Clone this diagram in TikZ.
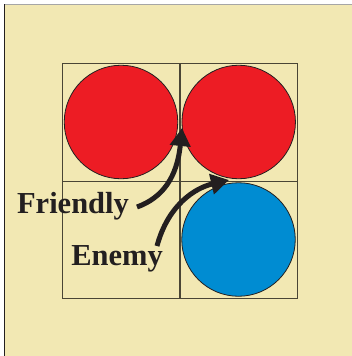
\documentclass[tikz,border=0pt]{standalone}
\usepackage{fontspec}
\setmainfont{Liberation Serif}
\usetikzlibrary{arrows.meta}
\definecolor{bg}{HTML}{F2E8B3}
\definecolor{redc}{HTML}{ED1C24}
\definecolor{bluec}{HTML}{008CD2}
\definecolor{gridc}{HTML}{4A4535}
\definecolor{ink}{HTML}{231F20}
\tikzset{
  disc/.style={circle, draw=ink, line width=0.8pt, minimum size=113.5pt, inner sep=0pt},
  gridline/.style={draw=gridc, line width=1.3pt},
  lbl/.style={font=\bfseries\fontsize{30.5}{32}\selectfont, text=ink, anchor=base, inner sep=0pt},
  pointer/.style={draw=ink, line width=5pt, -{Triangle[length=18pt,width=20pt]}}
}
\begin{document}
\begin{tikzpicture}[x=1pt,y=-1pt]
\useasboundingbox (0,0) rectangle (352,356);
\fill[white] (0,0) rectangle (352,356);
\fill[bg] (4.3,4.3) rectangle (352,356);
\draw[gray!70, line width=1pt] (4.3,4.3) -- (352,4.3);
\draw[ink, line width=1.2pt] (4.3,4.3) -- (4.3,356);
% grid
\draw[gridline] (62.3,63.3) rectangle (297.3,298.5);
\draw[gridline] (180,63.3) -- (180,298.5);
\draw[gridline] (62.3,181.3) -- (297.3,181.3);
% discs
\node[disc, fill=redc] (f1) at (121,122) {};
\node[disc, fill=redc] (f2) at (238.7,122) {};
\node[disc, fill=bluec] (e1) at (238.5,239.5) {};
% labels
\node[lbl] (friendly) at (73,213.3) {Friendly};
\node[lbl] (enemy) at (117,265) {Enemy};
\coordinate (ftip) at (182,128);
\coordinate (etip) at (229,180);
\coordinate (fstart) at (137,207);
\coordinate (estart) at (157,246);
\draw[pointer] (fstart) .. controls (162,198) and (177,178) .. (ftip);
\draw[pointer] (estart) .. controls (168,205) and (195,188) .. (etip);
\end{tikzpicture}
\end{document}
